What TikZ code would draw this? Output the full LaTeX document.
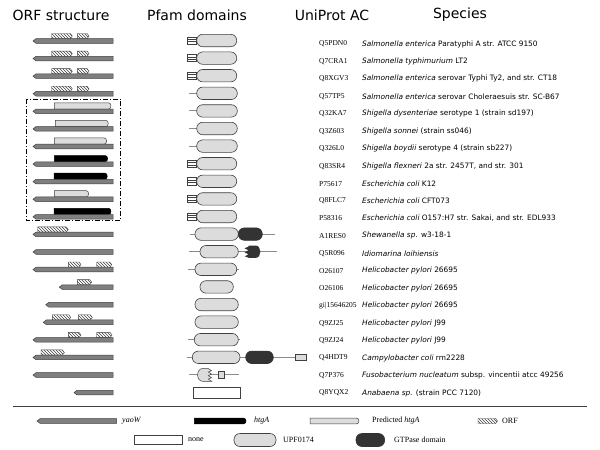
\documentclass[tikz,border=0pt]{standalone}
\usepackage{fontspec}
\setmainfont{Liberation Serif}
\newfontfamily\hdfont{DejaVu Sans}
\newfontfamily\spfont{DejaVu Sans}
\newfontfamily\acfont{Liberation Serif}
\usetikzlibrary{patterns}
\definecolor{yaogray}{HTML}{7F7F7F}
\definecolor{ltgray}{HTML}{DCDCDC}
\definecolor{dkgray}{HTML}{333333}
\definecolor{edgec}{HTML}{404040}
\definecolor{linegray}{HTML}{8C8C8C}
\tikzset{
 yaost/.style={fill=yaogray,draw=edgec,line width=0.5pt},
 predst/.style={fill=ltgray,draw=edgec,line width=0.5pt},
 htgst/.style={fill=black,draw=black,line width=0.5pt},
 hatchst/.style={pattern=north west lines,pattern color=black!75,draw=edgec,line width=0.4pt},
 pillst/.style={fill=ltgray,draw=edgec,line width=0.6pt,rounded corners=6pt},
 gtpst/.style={fill=dkgray,draw=dkgray,line width=0.6pt,rounded corners=6pt},
 linkst/.style={draw=linegray,line width=1.1pt},
 hdr/.style={font=\hdfont\fontsize{14}{16}\selectfont,inner sep=0},
 acst/.style={font=\acfont\fontsize{7.5}{9}\selectfont,anchor=west,inner sep=0},
 spst/.style={font=\spfont\fontsize{7.4}{9}\selectfont,anchor=west,inner sep=0},
 legst/.style={font=\fontsize{8}{9}\selectfont,anchor=west,inner sep=0},
}
\newcommand\Yao[2]{\pgfmathsetmacro\cy{41+17.58*#1}\draw[yaost] (#2,\cy) -- (#2+3,\cy-2.3) -- (113,\cy-2.3) -- (113,\cy+2.3) -- (#2+3,\cy+2.3) -- cycle;}
\newcommand\Hat[3]{\pgfmathsetmacro\cy{41+17.58*#1}\draw[hatchst] (#2,\cy-7.5) -- (#3-2,\cy-7.5) -- (#3,\cy-4.9) -- (#3-2,\cy-2.3) -- (#2,\cy-2.3) -- cycle;}
\newcommand\Up[4]{\pgfmathsetmacro\cy{41+17.58*#1}\draw[#4] (#2,\cy-8.5) -- (#3-3,\cy-8.5) .. controls (#3,\cy-8.5) and (#3,\cy-2.3) .. (#3-3,\cy-2.3) -- (#2,\cy-2.3) -- cycle;}
\newcommand\Pill[3]{\pgfmathsetmacro\py{40.5+17.6*#1}\draw[pillst] (#2,\py-6.2) rectangle (#3,\py+6.2);}
\newcommand\Lnk[3]{\pgfmathsetmacro\py{40.5+17.6*#1}\draw[linkst] (#2,\py) -- (#3,\py);}
\newcommand\Strp[3]{\pgfmathsetmacro\py{40.5+17.6*#1}\draw[fill=white,draw=edgec,line width=0.5pt] (#2,\py-3.6) rectangle (#3,\py+3.6); \draw[edgec,line width=0.5pt] (#2,\py-1.2) -- (#3,\py-1.2) (#2,\py+1.2) -- (#3,\py+1.2);}
\begin{document}
\begin{tikzpicture}[x=1pt,y=-1pt]
\useasboundingbox (0,0) rectangle (600,450);
\fill[white] (0,0) rectangle (600,450);
% headers
\node[hdr] (h1) at (61,15) {ORF structure};
\node[hdr] (h2) at (197,15) {Pfam domains};
\node[hdr] (h3) at (332,15) {UniProt AC};
\node[hdr] (h4) at (460,15) {Species};
% ORF structure
\foreach \r in {0,1,2,3} {\Hat{\r}{51.7}{72.3}\Hat{\r}{77.3}{89}}
\Up{4}{54.3}{111.7}{predst}
\Up{5}{55.3}{109}{predst}
\Up{6}{54.3}{107.3}{predst}
\Up{7}{54.3}{108.3}{htgst}
\Up{8}{54}{108}{htgst}
\Up{9}{54.3}{89.3}{predst}
\Up{10}{54}{111.7}{htgst}
\Hat{11}{37.7}{68.3}
\Hat{13}{68.3}{81}\Hat{13}{96.7}{111.7}
\Hat{14}{77.3}{91.7}
\Hat{16}{52.3}{70.7}\Hat{16}{78.3}{92.3}
\Hat{17}{68.3}{81}\Hat{17}{96.7}{112}
\Hat{18}{41}{64.3}
\foreach \r in {0,...,13,17,18,19} {\Yao{\r}{33}}
\Yao{14}{59.3}
\Yao{15}{45.7}
\Yao{16}{43.3}
\Yao{20}{74}
\draw[line width=0.9pt,dash pattern=on 5pt off 2pt on 1pt off 2pt] (26.7,99.3) rectangle (120.7,220.7);
% Pfam domains
\foreach \r in {0,1,2,7,8,9,10} {\Strp{\r}{187.7}{196.7}\Pill{\r}{196.7}{236.7}}
\foreach \r in {3,4,5,6} {\Lnk{\r}{189}{197}\Pill{\r}{196.7}{237.3}}
\Lnk{11}{190}{275}\Pill{11}{195}{238.3}
\pgfmathsetmacro\py{40.5+17.6*11}
\draw[gtpst] (238.3,\py-6.2) rectangle (262.3,\py+6.2);
\Lnk{12}{189}{276.7}\Pill{12}{200}{238.3}
\pgfmathsetmacro\py{40.5+17.6*12}
\fill[dkgray] (249,\py-6.2) -- (255.5,\py-6.2) .. controls (262,\py-6.2) and (262,\py+6.2) .. (255.5,\py+6.2) -- (249,\py+6.2) -- (244.8,\py+4.6) -- (248.5,\py+2.6) -- (244.5,\py+0.6) -- (248.5,\py-1.4) -- (244.5,\py-3.4) -- (248.3,\py-5) -- cycle;
\Lnk{13}{187.7}{239.3}\Pill{13}{195}{236.7}
\Pill{14}{200}{233.3}
\Pill{15}{195}{238.3}
\Pill{16}{195}{238.3}
\Lnk{17}{187.7}{240}\Pill{17}{194.3}{238.3}
\Lnk{18}{186.7}{295.7}\Pill{18}{192.3}{240}
\pgfmathsetmacro\py{40.5+17.6*18}
\draw[gtpst] (245.7,\py-6.2) rectangle (273.3,\py+6.2);
\draw[fill=ltgray,draw=edgec,line width=0.5pt] (295.7,\py-3.3) rectangle (306.7,\py+3.3);
\Lnk{19}{189.3}{239.3}
\pgfmathsetmacro\py{40.5+17.6*19}
\draw[fill=ltgray,draw=edgec,line width=0.5pt] (203,\py-6.5) -- (208,\py-6.5) -- (211.5,\py-4.2) -- (208.3,\py-2.8) -- (211.5,\py-0.8) -- (208.3,\py+0.8) -- (211.5,\py+2.8) -- (208.3,\py+4.2) -- (211.8,\py+6.5) -- (203,\py+6.5) .. controls (195.8,\py+6.5) and (195.8,\py-6.5) .. (203,\py-6.5) -- cycle;
\draw[fill=ltgray,draw=edgec,line width=0.5pt] (218.3,\py-3.2) rectangle (224,\py+3.2);
\pgfmathsetmacro\py{40.5+17.6*20}
\draw[fill=white,draw=edgec,line width=0.6pt] (193.3,\py-5.5) rectangle (240.7,\py+5.5);
% text columns
\foreach \ac/\gs/\rest [count=\i from 0] in {
 Q5PDN0/Salmonella enterica/Paratyphi A str. ATCC 9150,
 Q7CRA1/Salmonella typhimurium/LT2,
 Q8XGV3/Salmonella enterica/{serovar Typhi Ty2, and str. CT18},
 Q57TP5/Salmonella enterica/serovar Choleraesuis str. SC-B67,
 Q32KA7/Shigella dysenteriae/serotype 1 (strain sd197),
 Q3Z603/Shigella sonnei/(strain ss046),
 Q326L0/Shigella boydii/serotype 4 (strain sb227),
 Q83SR4/Shigella flexneri/{2a str. 2457T, and str. 301},
 P75617/Escherichia coli/K12,
 Q8FLC7/Escherichia coli/CFT073,
 P58316/Escherichia coli/{O157:H7 str. Sakai, and str. EDL933},
 A1RES0/Shewanella sp./w3-18-1,
 Q5R096/Idiomarina loihiensis/{},
 O26107/Helicobacter pylori/26695,
 O26106/Helicobacter pylori/26695,
 gi|15646205/Helicobacter pylori/26695,
 Q9ZJ25/Helicobacter pylori/J99,
 Q9ZJ24/Helicobacter pylori/J99,
 Q4HDT9/Campylobacter coli/rm2228,
 Q7P376/Fusobacterium nucleatum/subsp. vincentii atcc 49256,
 Q8YQX2/Anabaena sp./(strain PCC 7120)} {
 \node[acst] (ac\i) at (319,{44+17.45*\i}) {\ac};
 \node[spst] (sp\i) at (362,{44+17.45*\i}) {\textit{\gs} \rest};
}
% separator
\draw[edgec,line width=0.8pt] (13,406) -- (587,406);
% legend row 1
\draw[yaost] (37,421) -- (40,418.7) -- (116.7,418.7) -- (116.7,423.3) -- (40,423.3) -- cycle;
\node[legst] (l1) at (122,421) {\textit{yaoW}};
\draw[htgst] (194.4,418.2) -- (243.8,418.2) .. controls (246.8,418.2) and (246.8,423.8) .. (243.8,423.8) -- (194.4,423.8) -- cycle;
\node[legst] (l2) at (254,421) {\textit{htgA}};
\draw[predst] (310,418.2) -- (356.7,418.2) .. controls (359.7,418.2) and (359.7,423.8) .. (356.7,423.8) -- (310,423.8) -- cycle;
\node[legst] (l3) at (372,421) {Predicted \textit{htgA}};
\draw[hatchst] (478,418.5) -- (495.5,418.5) -- (497.5,421) -- (495.5,423.5) -- (478,423.5) -- cycle;
\node[legst] (l4) at (502,421) {ORF};
% legend row 2
\draw[fill=white,draw=edgec,line width=0.6pt] (134,435.5) rectangle (181.8,444.5);
\node[legst] (l5) at (188,440) {none};
\draw[pillst] (234,433.5) rectangle (276,446.5);
\node[legst] (l6) at (283,440) {UPF0174};
\draw[gtpst] (356,433.5) rectangle (384.6,446.5);
\node[legst] (l7) at (394,440) {GTPase domain};
\end{tikzpicture}
\end{document}
